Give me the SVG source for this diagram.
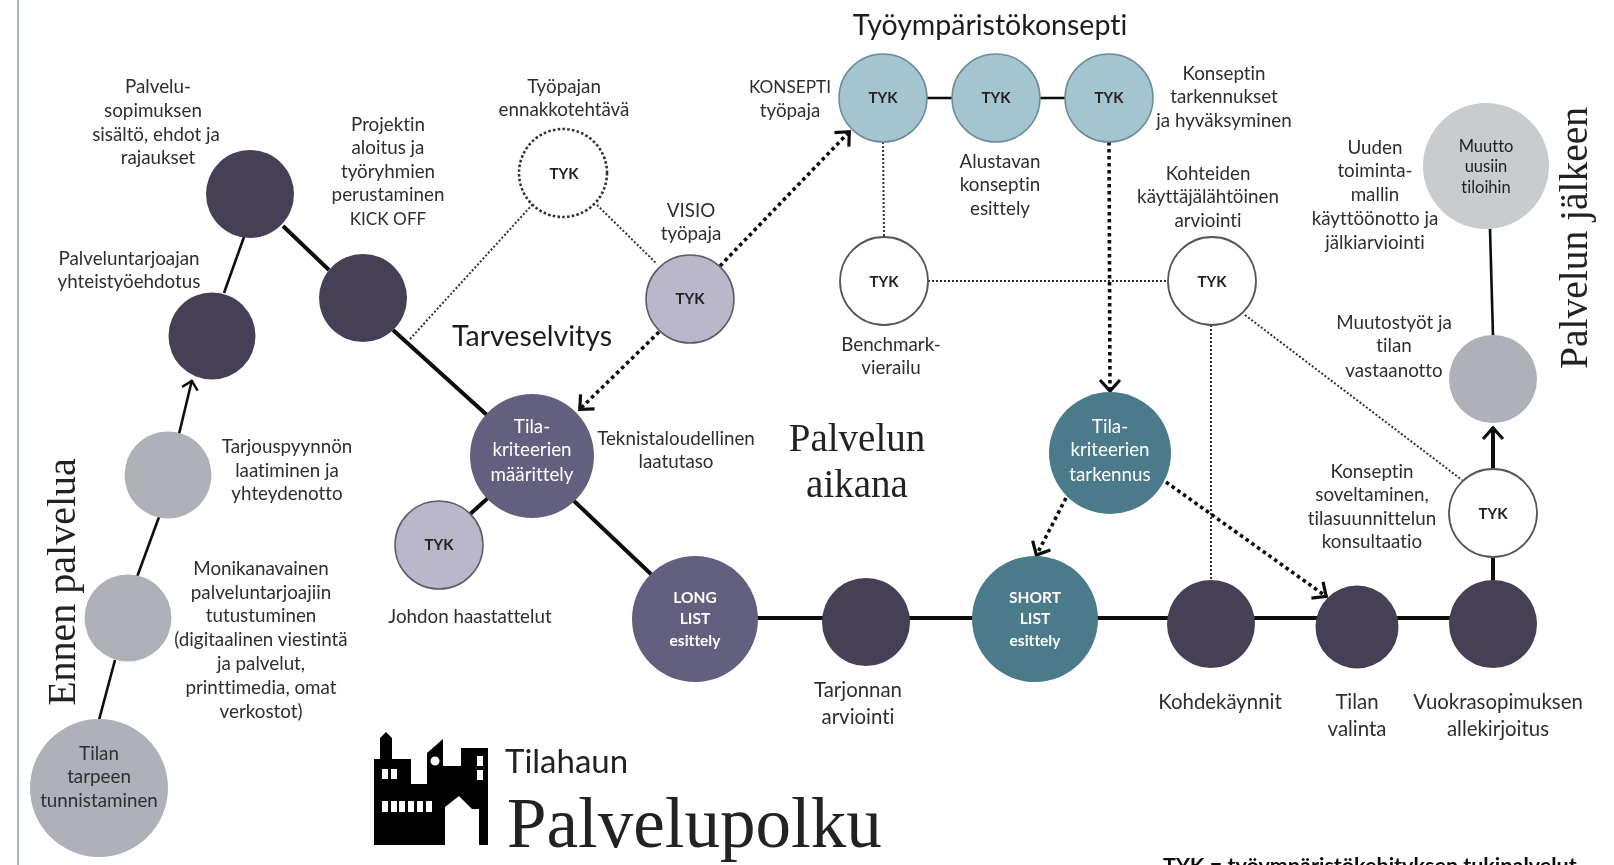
<svg xmlns="http://www.w3.org/2000/svg" width="1614" height="865" viewBox="0 0 1614 865">
<style>
text{font-family:"Lato","Open Sans","Liberation Sans",sans-serif;fill:#2e2e2e;font-size:18.8px;text-anchor:middle;font-variant-ligatures:none}
.w{fill:#fff}
.wb{fill:#fff;font-weight:700;font-size:15.500px}
.t{font-size:16.500px;fill:#1f1f1f}
.k{font-size:15px;fill:#222;font-weight:700}
.b{font-size:20.400px}
.c{font-size:17.200px}
.s{font-family:"Liberation Serif","DejaVu Serif",serif;fill:#222}
.big{font-size:28.500px;fill:#1c1c1c}
.dark{fill:#444155}.pur{fill:#64607f}.teal{fill:#4b7a8b}
.lb{fill:#a4c4cf;stroke:#6d8c9a;stroke-width:1.5}
.li{fill:#b9b7c9;stroke:#5c5c66;stroke-width:1.5}
.wh{fill:#fff;stroke:#555;stroke-width:1.8}
.g1{fill:#aeb1b8}.g2{fill:#c9cccf}
.a{fill:none;stroke:#111;stroke-linecap:butt}
.th{stroke-width:4}.md{stroke-width:2.6}
.d1{fill:none;stroke:#333;stroke-width:2;stroke-dasharray:2 2}
.d2{fill:none;stroke:#111;stroke-width:3.6;stroke-dasharray:3.6 3.4}
</style>
<defs>
<marker id="v" markerUnits="userSpaceOnUse" markerWidth="28" markerHeight="28" refX="17" refY="14" orient="auto"><path d="M5 4L16 14L5 24" fill="none" stroke="#111" stroke-width="3.200"/></marker>
<marker id="s" markerUnits="userSpaceOnUse" markerWidth="24" markerHeight="24" refX="16" refY="12" orient="auto"><path d="M7 4L15 12L7 20" fill="none" stroke="#111" stroke-width="2.400"/></marker>
<filter id="b" x="0" y="0" width="1614" height="865" filterUnits="userSpaceOnUse"><feGaussianBlur stdDeviation="0.6"/></filter>
</defs>
<rect width="1614" height="865" fill="#fff"/>
<g filter="url(#b)">
<rect id="edge" x="17" y="0" width="2" height="865" fill="#9fb6d2"/>
<g id="connectors">
<path class="a md" d="M99 720L115 660"/>
<path class="a md" d="M137 577L159 517"/>
<path class="a md" d="M179 434L192 380" marker-end="url(#s)"/>
<path class="a md" d="M224 293L244 237"/>
<path class="a th" d="M283 226L329 270"/>
<path class="a th" d="M393 330L488 416"/>
<path class="a th" d="M573 500L654 577"/>
<path class="a th" d="M489 497L468 516"/>
<path class="a th" d="M755 618L1450 618"/>
<path class="a th" d="M1493 558L1493 582"/>
<path class="a th" d="M1493 468L1493 427" marker-end="url(#v)"/>
<path class="a md" d="M1490 229L1493 336"/>
<path class="a md" d="M925 98L954 98M1038 98L1067 98"/>
<path class="d1" d="M410 339L532 205"/>
<path class="d1" d="M597 205L657 264"/>
<path class="d1" d="M883 142L884 237"/>
<path class="d1" d="M928 281L1167 281"/>
<path class="d1" d="M1211 325L1211 582"/>
<path class="d1" d="M1245 315L1462 480"/>
<path class="d2" d="M720 266L850 131" marker-end="url(#v)"/>
<path class="d2" d="M659 332L579 410" marker-end="url(#v)"/>
<path class="d2" d="M1109 142L1110 392" marker-end="url(#v)"/>
<path class="d2" d="M1066 498L1036 556" marker-end="url(#v)"/>
<path class="d2" d="M1166 482L1327 597" marker-end="url(#v)"/>
</g>

<g id="n-tarve"><circle class="g1" cx="99" cy="788" r="69"/>
<text x="99" y="760">Tilan</text><text x="99" y="783">tarpeen</text><text x="99" y="807">tunnistaminen</text></g>
<g id="n-moni"><circle class="g1" cx="128" cy="618" r="43.500"/>
<text x="261" y="575">Monikanavainen</text><text x="261" y="599">palveluntarjoajiin</text><text x="261" y="622">tutustuminen</text><text x="261" y="646">(digitaalinen viestintä</text><text x="261" y="670">ja palvelut,</text><text x="261" y="694">printtimedia, omat</text><text x="261" y="718">verkostot)</text></g>
<g id="n-tarjous"><circle class="g1" cx="168" cy="475" r="43.500"/>
<text x="287" y="453">Tarjouspyynnön</text><text x="287" y="477">laatiminen ja</text><text x="287" y="500">yhteydenotto</text></g>
<g id="n-ehdotus"><circle class="dark" cx="212" cy="336" r="43.500"/>
<text x="129" y="265">Palveluntarjoajan</text><text x="129" y="288">yhteistyöehdotus</text></g>
<g id="n-sopimus"><circle class="dark" cx="250" cy="194" r="44"/>
<text x="158" y="93">Palvelu-</text><text x="153" y="117">sopimuksen</text><text x="156" y="141">sisältö, ehdot ja</text><text x="158" y="164">rajaukset</text></g>
<g id="n-kickoff"><circle class="dark" cx="363" cy="298" r="44"/>
<text x="388" y="131">Projektin</text><text x="388" y="154">aloitus ja</text><text x="388" y="178">työryhmien</text><text x="388" y="201">perustaminen</text><text class="c" x="388" y="225">KICK OFF</text></g>
<g id="n-ennakko"><circle cx="563" cy="173" r="44" fill="#fff" stroke="#333" stroke-width="2.600" stroke-dasharray="2.600 2.200"/>
<text class="k" x="564" y="179">TYK</text>
<text x="564" y="93">Työpajan</text><text x="564" y="116">ennakkotehtävä</text></g>
<g id="n-visio"><circle class="li" cx="690" cy="299" r="44"/>
<text class="k" x="690" y="304">TYK</text>
<text x="691" y="217">VISIO</text><text x="691" y="240">työpaja</text></g>
<g id="n-kriteerit"><circle class="pur" cx="532" cy="456" r="62"/>
<text class="w" x="532" y="433">Tila-</text><text class="w" x="532" y="456">kriteerien</text><text class="w" x="532" y="481">määrittely</text></g>
<g id="n-johdon"><circle class="li" cx="439" cy="545" r="44"/>
<text class="k" x="439" y="550">TYK</text><text x="470" y="623">Johdon haastattelut</text></g>
<g id="n-long"><circle class="pur" cx="695" cy="619" r="63"/>
<text class="wb" x="695" y="603">LONG</text><text class="wb" x="695" y="624">LIST</text><text class="wb" x="695" y="646">esittely</text></g>
<g id="n-tarjonta"><circle class="dark" cx="866" cy="622" r="44"/>
<text class="b" x="858" y="697">Tarjonnan</text><text class="b" x="858" y="724">arviointi</text></g>
<g id="n-short"><circle class="teal" cx="1035" cy="619" r="63"/>
<text class="wb" x="1035" y="603">SHORT</text><text class="wb" x="1035" y="624">LIST</text><text class="wb" x="1035" y="646">esittely</text></g>
<g id="n-kohde"><circle class="dark" cx="1211" cy="624" r="44"/>
<text class="b" x="1220" y="709">Kohdekäynnit</text></g>
<g id="n-valinta"><circle class="dark" cx="1357" cy="627" r="41.500"/>
<text class="b" x="1357" y="709">Tilan</text><text class="b" x="1357" y="736">valinta</text></g>
<g id="n-vuokra"><circle class="dark" cx="1493" cy="624" r="44"/>
<text class="b" x="1498" y="709">Vuokrasopimuksen</text><text class="b" x="1498" y="736">allekirjoitus</text></g>
<g id="n-k1"><circle class="lb" cx="883" cy="98" r="44"/><text class="k" x="883" y="103">TYK</text>
<text class="c" x="790" y="93">KONSEPTI</text><text x="790" y="117">työpaja</text></g>
<g id="n-k2"><circle class="lb" cx="996" cy="98" r="44"/><text class="k" x="996" y="103">TYK</text>
<text x="1000" y="168">Alustavan</text><text x="1000" y="191">konseptin</text><text x="1000" y="215">esittely</text></g>
<g id="n-k3"><circle class="lb" cx="1109" cy="98" r="44"/><text class="k" x="1109" y="103">TYK</text>
<text x="1224" y="80">Konseptin</text><text x="1224" y="103">tarkennukset</text><text x="1224" y="127">ja hyväksyminen</text></g>
<g id="n-bench"><circle class="wh" cx="884" cy="281" r="44"/><text class="k" x="884" y="287">TYK</text>
<text x="891" y="351">Benchmark-</text><text x="891" y="374">vierailu</text></g>
<g id="n-kayttaja"><circle class="wh" cx="1212" cy="281" r="44"/><text class="k" x="1212" y="287">TYK</text>
<text x="1208" y="180">Kohteiden</text><text x="1208" y="203">käyttäjälähtöinen</text><text x="1208" y="227">arviointi</text></g>
<g id="n-tarkennus"><circle class="teal" cx="1110" cy="453" r="61"/>
<text class="w" x="1110" y="433">Tila-</text><text class="w" x="1110" y="456">kriteerien</text><text class="w" x="1110" y="481">tarkennus</text></g>
<g id="n-konsultaatio"><circle class="wh" cx="1493" cy="513" r="44"/><text class="k" x="1493" y="519">TYK</text>
<text x="1372" y="478">Konseptin</text><text x="1372" y="501">soveltaminen,</text><text x="1372" y="525">tilasuunnittelun</text><text x="1372" y="548">konsultaatio</text></g>
<g id="n-muutos"><circle class="g1" cx="1493" cy="379" r="44"/>
<text x="1394" y="329">Muutostyöt ja</text><text x="1394" y="352">tilan</text><text x="1394" y="377">vastaanotto</text></g>
<g id="n-muutto"><circle class="g2" cx="1486" cy="166" r="63"/>
<text class="t" x="1486" y="152">Muutto</text><text class="t" x="1486" y="172">uusiin</text><text class="t" x="1486" y="193">tiloihin</text>
<text x="1375" y="154">Uuden</text><text x="1375" y="177">toiminta-</text><text x="1375" y="201">mallin</text><text x="1375" y="225">käyttöönotto ja</text><text x="1375" y="249">jälkiarviointi</text></g>

<g id="labels">
<text x="676" y="445">Teknistaloudellinen</text><text x="676" y="468">laatutaso</text>
<text class="big" x="532" y="346">Tarveselvitys</text>
<text class="big" x="990" y="35">Työympäristökonsepti</text>
<text class="s" x="857" y="451" style="font-size:39px">Palvelun</text>
<text class="s" x="857" y="497" style="font-size:39px">aikana</text>
<text class="s" transform="translate(75 582) rotate(-90)" style="font-size:40px" x="0" y="0">Ennen palvelua</text>
<text class="s" transform="translate(1587 238) rotate(-90)" style="font-size:39.500px" x="0" y="0">Palvelun jälkeen</text>
<text x="505" y="773" style="text-anchor:start;font-size:33px;fill:#222">Tilahaun</text>
<text class="s" x="507" y="847" style="text-anchor:start;font-size:71px">Palvelupolku</text>
<text x="1163" y="873" style="text-anchor:start;font-size:21.500px;font-weight:700;fill:#111">TYK = työympäristökehityksen tukipalvelut</text>
</g>
<g id="logo">
<path fill="#000" fill-rule="evenodd" d="M374 845V759H380V738L386 732L392 738V759H411V784H427V753L443 739V766H461V748H488V845H479V809H472L459 796L445 807V845ZM382 769v10h6v-10ZM391 769v10h6v-10ZM382 801v11h6v-11ZM391 801v11h6v-11ZM399 801v11h6v-11ZM408 801v11h6v-11ZM417 801v11h6v-11ZM426 801v11h6v-11ZM477 756v10h6v-10ZM477 770v10h6v-10ZM430.500 761a4.500 4.500 0 1 0 9 0a4.500 4.500 0 1 0 -9 0Z"/>
</g>
</g>
</svg>
